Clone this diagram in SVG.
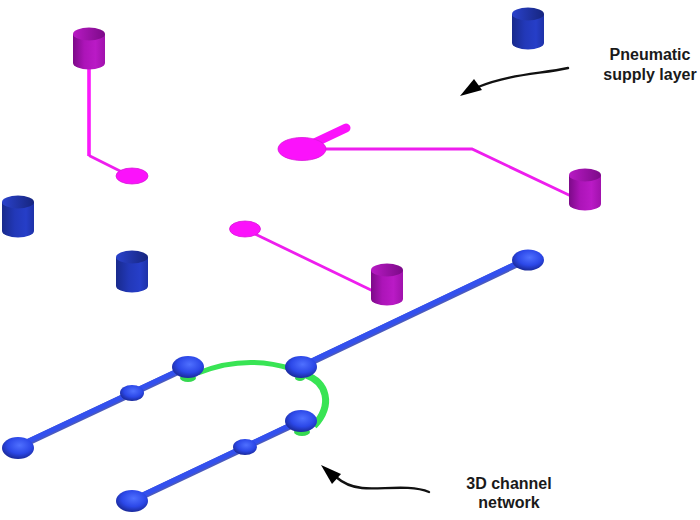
<svg xmlns="http://www.w3.org/2000/svg" width="700" height="520" viewBox="0 0 700 520">
  <style>
    .label { font-family: "Liberation Sans", Arial, sans-serif; font-size: 16px; font-weight: 700; fill: #1a1a1a; text-anchor: middle; }
    .pneu { fill: none; stroke: #ee1eee; stroke-width: 2.8; stroke-linejoin: miter; }
    .chan { fill: none; stroke: #3350ee; stroke-width: 5; stroke-linecap: round; }
    .chan-edge { fill: none; stroke: #1c2fb0; stroke-width: 6.5; stroke-linecap: round; opacity: .8; }
    .pad { fill: #fb12fb; stroke: #d818d8; stroke-width: .8; }
    .arrow { fill: none; stroke: #111; stroke-width: 2.4; stroke-linecap: round; }
    .head { fill: #000; }
    .foot { fill: #35d850; }
  </style>
  <defs>
    <linearGradient id="purpleWall" x1="0" x2="1" y1="0" y2="0">
      <stop offset="0" stop-color="#7c0a88"/>
      <stop offset=".35" stop-color="#ac14b8"/>
      <stop offset=".7" stop-color="#ba1ac6"/>
      <stop offset="1" stop-color="#a012ac"/>
    </linearGradient>
    <linearGradient id="purpleInner" x1="0" x2="1" y1="0" y2="0">
      <stop offset="0" stop-color="#b81ac4"/>
      <stop offset="1" stop-color="#7c0a88"/>
    </linearGradient>
    <linearGradient id="blueWall" x1="0" x2="1" y1="0" y2="0">
      <stop offset="0" stop-color="#182a8c"/>
      <stop offset=".4" stop-color="#2238b8"/>
      <stop offset=".75" stop-color="#263ec8"/>
      <stop offset="1" stop-color="#1e32a8"/>
    </linearGradient>
    <linearGradient id="blueInner" x1="0" x2="1" y1="0" y2="0">
      <stop offset="0" stop-color="#2a42cc"/>
      <stop offset="1" stop-color="#16257e"/>
    </linearGradient>
    <radialGradient id="bulb" cx=".55" cy=".38" r=".62">
      <stop offset="0" stop-color="#4f70ff"/>
      <stop offset=".6" stop-color="#2c48e8"/>
      <stop offset="1" stop-color="#1a2a9c"/>
    </radialGradient>
    <!-- Reservoir cylinders, origin at the centre of the top rim -->
    <g id="wellPurple">
      <path d="M-16 0V29A16 6.5 0 0 0 16 29V0Z" fill="url(#purpleWall)"/>
      <ellipse cx="0" cy="0" rx="16" ry="6.5" fill="url(#purpleInner)"/>
    </g>
    <g id="wellBlue">
      <path d="M-16 0V29A16 6.5 0 0 0 16 29V0Z" fill="url(#blueWall)"/>
      <ellipse cx="0" cy="0" rx="16" ry="6.5" fill="url(#blueInner)"/>
    </g>
  </defs>

  <rect width="700" height="520" fill="#fff"/>

  <g id="connectors">
    <!-- Pneumatic supply lines -->
    <path class="pneu" style="stroke-width:3.6;stroke:#fb18fb" d="M89 68V156"/>
    <path class="pneu" d="M89 155.500L122 172"/>
    <path class="pneu" d="M320 149H472L571 196"/>
    <path class="pneu" d="M255 234L373 291"/>
    <path d="M310 145L346 128" fill="none" stroke="#fb12fb" stroke-width="9" stroke-linecap="round"/>
    <!-- Green bridge arcs of the channel network -->
    <path d="M198 373Q245 354 292 369" fill="none" stroke="#38e454" stroke-width="5"/>
    <path d="M306 375C326 382 334 404 314 426" fill="none" stroke="#38e454" stroke-width="7"/>
    <!-- Channel runs -->
    <path class="chan-edge" d="M18 447L188 367"/>
    <path class="chan" d="M18 446L188 366"/>
    <path class="chan-edge" d="M132 501L301 421"/>
    <path class="chan" d="M132 500L301 420"/>
    <path class="chan-edge" d="M301 367L528 259"/>
    <path class="chan" d="M301 366L528 258"/>
    <!-- Callout arrows -->
    <path class="arrow" d="M568 68C540 74 510 74 478 87"/>
    <path class="head" d="M460 96L474 79L482 90Z"/>
    <path class="arrow" d="M429 492C410 484 380 490 362 488C352 487 344 484 336 477"/>
    <path class="head" d="M321 465L341 474L332 484Z"/>
  </g>

  <g id="well-p1"><use href="#wellPurple" x="89" y="34"/></g>
  <g id="well-p2"><use href="#wellPurple" x="585" y="175"/></g>
  <g id="well-p3"><use href="#wellPurple" x="387" y="270"/></g>
  <g id="well-b1"><use href="#wellBlue" x="528" y="14"/></g>
  <g id="well-b2"><use href="#wellBlue" x="18" y="202"/></g>
  <g id="well-b3"><use href="#wellBlue" x="132" y="257"/></g>

  <g id="pad-1"><ellipse class="pad" cx="132" cy="176" rx="16" ry="8"/></g>
  <g id="pad-2"><ellipse class="pad" cx="302" cy="149" rx="24" ry="11.500"/></g>
  <g id="pad-3"><ellipse class="pad" cx="245" cy="229" rx="15.500" ry="8"/></g>

  <g id="foot-a"><ellipse class="foot" cx="188" cy="378" rx="8" ry="4"/></g>
  <g id="foot-b"><ellipse class="foot" cx="300" cy="378" rx="5" ry="3"/></g>
  <g id="foot-c"><ellipse class="foot" cx="302" cy="432" rx="8" ry="4"/></g>

  <g id="bulb-1"><ellipse cx="18" cy="448" rx="16" ry="11" fill="url(#bulb)"/></g>
  <g id="bulb-2"><ellipse cx="132" cy="393" rx="12" ry="8" fill="url(#bulb)"/></g>
  <g id="bulb-3"><ellipse cx="188" cy="367" rx="16" ry="11" fill="url(#bulb)"/></g>
  <g id="bulb-4"><ellipse cx="301" cy="367" rx="16" ry="11" fill="url(#bulb)"/></g>
  <g id="bulb-5"><ellipse cx="301" cy="421" rx="16" ry="11" fill="url(#bulb)"/></g>
  <g id="bulb-6"><ellipse cx="245" cy="447" rx="12" ry="8" fill="url(#bulb)"/></g>
  <g id="bulb-7"><ellipse cx="132" cy="501" rx="16" ry="11" fill="url(#bulb)"/></g>
  <g id="bulb-8"><ellipse cx="528" cy="260" rx="16" ry="10.500" fill="url(#bulb)"/></g>

  <g id="label-supply">
    <text class="label" x="650" y="60">Pneumatic</text>
    <text class="label" x="650" y="80">supply layer</text>
  </g>
  <g id="label-network">
    <text class="label" x="509" y="489">3D channel</text>
    <text class="label" x="509" y="508">network</text>
  </g>
</svg>
